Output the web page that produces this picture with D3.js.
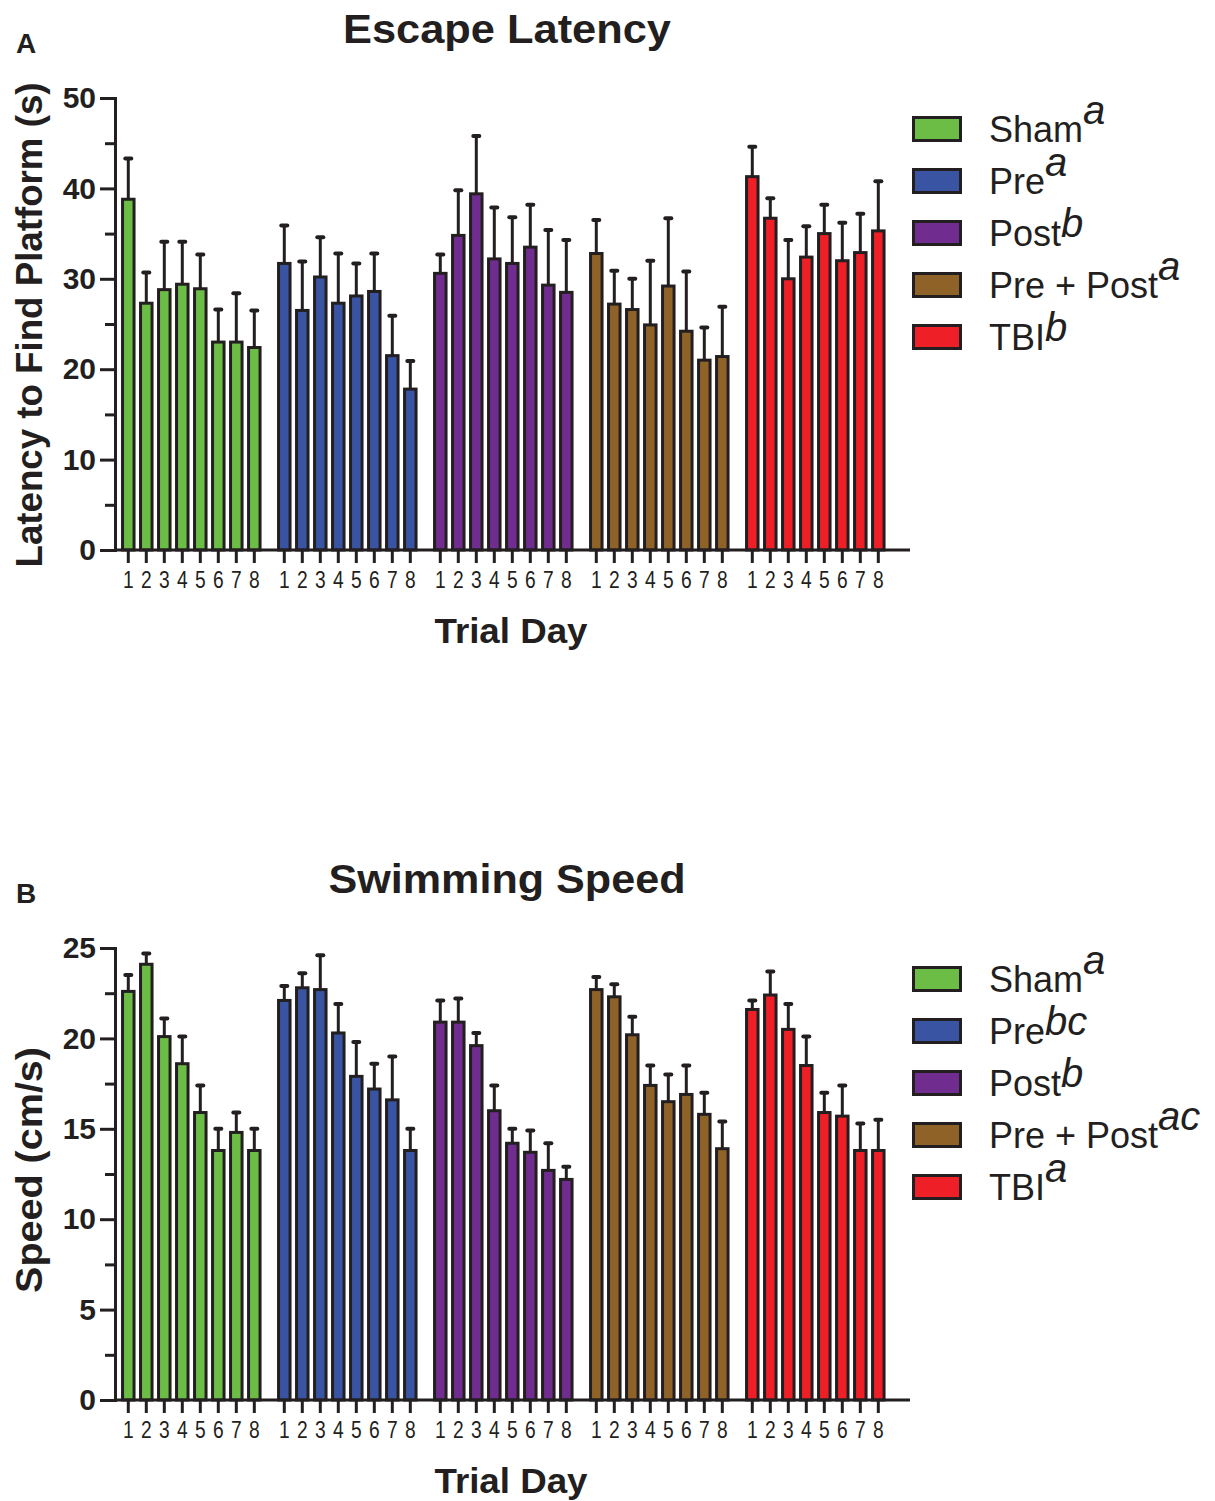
<!DOCTYPE html>
<html><head><meta charset="utf-8">
<script src="https://cdn.jsdelivr.net/npm/d3@7"></script>
<style>body{margin:0;background:#fff;} svg{display:block;}</style>
</head><body>
<svg id="chart" width="1215" height="1501"></svg>
<script>
// ---------- DATA ----------
const groups = ["Sham", "Pre", "Post", "Pre + Post", "TBI"];
const days = ["1", "2", "3", "4", "5", "6", "7", "8"];
const groupColors = ["#6bbd45", "#3a54a4", "#702c8f", "#8f6328", "#ee1f26"];

// Panel A: Escape latency (s), mean and SEM per trial day
const latencyMean = {
  "Sham":       [38.8, 27.3, 28.8, 29.4, 28.9, 23.0, 23.0, 22.4],
  "Pre":        [31.7, 26.5, 30.2, 27.3, 28.1, 28.6, 21.5, 17.8],
  "Post":       [30.6, 34.8, 39.4, 32.2, 31.7, 33.5, 29.3, 28.5],
  "Pre + Post": [32.8, 27.2, 26.6, 24.9, 29.2, 24.2, 21.0, 21.4],
  "TBI":        [41.3, 36.7, 30.0, 32.4, 35.0, 32.0, 32.9, 35.3]
};
const latencySem = {
  "Sham":       [4.5, 3.4, 5.3, 4.7, 3.8, 3.6, 5.4, 4.1],
  "Pre":        [4.2, 5.4, 4.4, 5.5, 3.6, 4.2, 4.4, 3.1],
  "Post":       [2.1, 5.0, 6.4, 5.7, 5.1, 4.7, 6.1, 5.8],
  "Pre + Post": [3.7, 3.7, 3.4, 7.1, 7.5, 6.6, 3.6, 5.5],
  "TBI":        [3.3, 2.2, 4.3, 3.4, 3.2, 4.2, 4.3, 5.5]
};
const latencySuper = ["a", "a", "b", "a", "b"];
const latencyTicks = [0, 10, 20, 30, 40, 50];
const latencyMinor = [5, 15, 25, 35, 45];

// Panel B: Swimming speed (cm/s)
const speedMean = {
  "Sham":       [22.6, 24.1, 20.1, 18.6, 15.9, 13.8, 14.8, 13.8],
  "Pre":        [22.1, 22.8, 22.7, 20.3, 17.9, 17.2, 16.6, 13.8],
  "Post":       [20.9, 20.9, 19.6, 16.0, 14.2, 13.7, 12.7, 12.2],
  "Pre + Post": [22.7, 22.3, 20.2, 17.4, 16.5, 16.9, 15.8, 13.9],
  "TBI":        [21.6, 22.4, 20.5, 18.5, 15.9, 15.7, 13.8, 13.8]
};
const speedSem = {
  "Sham":       [0.9, 0.6, 1.0, 1.5, 1.5, 1.2, 1.1, 1.2],
  "Pre":        [0.8, 0.8, 1.9, 1.6, 1.9, 1.4, 2.4, 1.2],
  "Post":       [1.2, 1.3, 0.7, 1.4, 0.8, 1.2, 1.5, 0.7],
  "Pre + Post": [0.7, 0.7, 1.0, 1.1, 1.5, 1.6, 1.2, 1.5],
  "TBI":        [0.5, 1.3, 1.4, 1.6, 1.1, 1.7, 1.5, 1.7]
};
const speedSuper = ["a", "bc", "b", "ac", "a"];
const speedTicks = [0, 5, 10, 15, 20, 25];
const speedMinor = [2.5, 7.5, 12.5, 17.5, 22.5];

// ---------- DRAW ----------
const INK = "#231f20";
const FONT = "'Liberation Sans', Arial, Helvetica, sans-serif";
const svg = d3.select("#chart");

const xGroup = d3.scaleBand().domain(groups).range([119.3, 899.3]).paddingInner(0).paddingOuter(0);
const xDay = d3.scaleBand().domain(days).range([0, xGroup.bandwidth() - 12]).paddingInner(0.361).paddingOuter(0.18);

function drawPanel(cfg) {
  const g = svg.append("g").attr("transform", `translate(0,${cfg.dy})`);
  const y0 = 550, yTop = 98;
  const y = d3.scaleLinear().domain([0, cfg.max]).range([y0, yTop]);

  const rows = [];
  groups.forEach((grp, gi) => {
    days.forEach((d, di) => {
      rows.push({grp, gi, day: d, mean: cfg.mean[grp][di], sem: cfg.sem[grp][di],
        cx: xGroup(grp) + xDay(d) + xDay.bandwidth() / 2});
    });
  });

  // error bars
  g.append("g").selectAll("line.err").data(rows).join("line")
    .attr("x1", d => d.cx).attr("x2", d => d.cx)
    .attr("y1", d => y(d.mean)).attr("y2", d => y(d.mean + d.sem))
    .attr("stroke", INK).attr("stroke-width", 3);
  g.append("g").selectAll("line.cap").data(rows).join("line")
    .attr("x1", d => d.cx - 3).attr("x2", d => d.cx + 3)
    .attr("y1", d => y(d.mean + d.sem)).attr("y2", d => y(d.mean + d.sem))
    .attr("stroke", INK).attr("stroke-width", 4).attr("stroke-linecap", "round");

  // bars
  g.append("g").selectAll("rect").data(rows).join("rect")
    .attr("x", d => d.cx - xDay.bandwidth() / 2)
    .attr("width", xDay.bandwidth())
    .attr("y", d => y(d.mean))
    .attr("height", d => y0 - y(d.mean))
    .attr("fill", d => groupColors[d.gi])
    .attr("stroke", INK).attr("stroke-width", 3);

  // y axis (major)
  const yAxis = g.append("g").attr("transform", "translate(115,0)")
    .call(d3.axisLeft(y).tickValues(cfg.ticks).tickSize(15).tickSizeOuter(0).tickPadding(4));
  yAxis.select(".domain").attr("stroke", INK).attr("stroke-width", 3).attr("stroke-linecap", "square");
  yAxis.selectAll(".tick line").attr("stroke", INK).attr("stroke-width", 3);
  yAxis.selectAll(".tick text").attr("font-family", FONT).attr("font-weight", "bold")
    .attr("font-size", 30).attr("fill", INK);
  // minor ticks
  const yMinor = g.append("g").attr("transform", "translate(115,0)")
    .call(d3.axisLeft(y).tickValues(cfg.minor).tickSize(10).tickSizeOuter(0).tickFormat(""));
  yMinor.select(".domain").remove();
  yMinor.selectAll(".tick line").attr("stroke", INK).attr("stroke-width", 3);

  // x axis line and ticks
  g.append("line").attr("x1", 114).attr("x2", 910).attr("y1", y0).attr("y2", y0)
    .attr("stroke", INK).attr("stroke-width", 3);
  g.append("g").selectAll("line").data(rows).join("line")
    .attr("x1", d => d.cx).attr("x2", d => d.cx).attr("y1", y0).attr("y2", y0 + 13)
    .attr("stroke", INK).attr("stroke-width", 3);
  g.append("g").selectAll("text").data(rows).join("text")
    .attr("transform", d => `translate(${d.cx},${y0 + 38}) scale(0.8,1)`)
    .attr("text-anchor", "middle").attr("font-family", FONT).attr("font-size", 24)
    .attr("fill", INK).text(d => d.day);

  // axis titles
  g.append("text").attr("x", 511).attr("y", y0 + 93).attr("text-anchor", "middle")
    .attr("font-family", FONT).attr("font-weight", "bold").attr("font-size", 35)
    .attr("textLength", 153).attr("lengthAdjust", "spacingAndGlyphs")
    .attr("fill", INK).text("Trial Day");
  g.append("text").attr("transform", `translate(42,${cfg.yTitleY}) rotate(-90)`)
    .attr("text-anchor", "middle").attr("font-family", FONT).attr("font-weight", "bold")
    .attr("font-size", 37).attr("textLength", cfg.yTitleLen).attr("lengthAdjust", "spacingAndGlyphs")
    .attr("fill", INK).text(cfg.yTitle);

  // chart title and panel letter
  g.append("text").attr("x", 507).attr("y", 43).attr("text-anchor", "middle")
    .attr("font-family", FONT).attr("font-weight", "bold").attr("font-size", 41)
    .attr("textLength", cfg.titleLen).attr("lengthAdjust", "spacingAndGlyphs")
    .attr("fill", INK).text(cfg.title);
  g.append("text").attr("x", 16).attr("y", 53)
    .attr("font-family", FONT).attr("font-weight", "bold").attr("font-size", 28)
    .attr("fill", INK).text(cfg.letter);

  // legend
  const leg = g.append("g").selectAll("g").data(groups).join("g")
    .attr("transform", (d, i) => `translate(0,${129 + i * 52})`);
  leg.append("rect").attr("x", 913.5).attr("y", -11.5).attr("width", 47).attr("height", 23)
    .attr("fill", (d, i) => groupColors[i]).attr("stroke", INK).attr("stroke-width", 3);
  const lt = leg.append("text").attr("x", 989).attr("y", 12.7)
    .attr("font-family", FONT).attr("font-size", 36).attr("fill", INK);
  lt.append("tspan").text(d => d);
  lt.append("tspan").attr("font-style", "italic").attr("font-size", 40)
    .attr("dy", (d, i) => /[bdfhklt]/.test(cfg.sup[i]) ? -9 : -18)
    .text((d, i) => cfg.sup[i]);
}

drawPanel({dy: 0, max: 50, mean: latencyMean, sem: latencySem, ticks: latencyTicks, minor: latencyMinor,
  sup: latencySuper, title: "Escape Latency", titleLen: 328, letter: "A",
  yTitle: "Latency to Find Platform (s)", yTitleY: 325, yTitleLen: 485});
drawPanel({dy: 850, max: 25, mean: speedMean, sem: speedSem, ticks: speedTicks, minor: speedMinor,
  sup: speedSuper, title: "Swimming Speed", titleLen: 357, letter: "B",
  yTitle: "Speed (cm/s)", yTitleY: 320, yTitleLen: 246});
</script>
</body></html>
